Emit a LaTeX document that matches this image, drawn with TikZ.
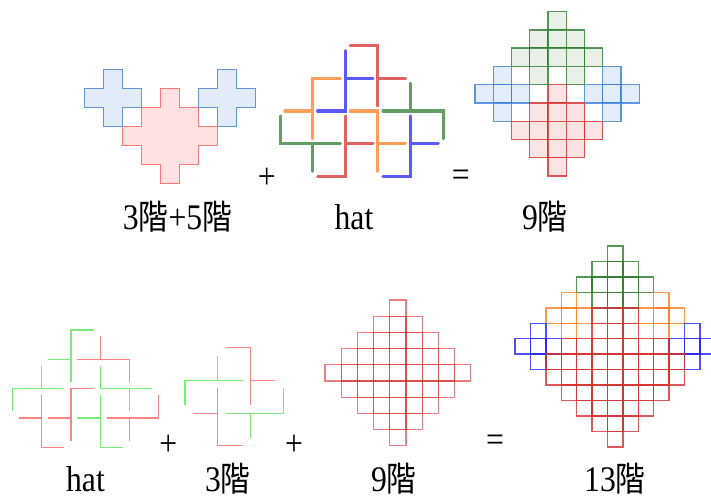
\documentclass[tikz,border=0pt]{standalone}
\usepackage{fontspec}
\setmainfont{Liberation Serif}
\newfontfamily\cjk{Noto Sans CJK TC}
\usepackage{graphicx}

\definecolor{hblue}{RGB}{100,150,215}
\definecolor{hbluefill}{RGB}{225,236,248}
\definecolor{hred}{RGB}{255,120,120}
\definecolor{hredfill}{RGB}{255,225,225}
\definecolor{cgreen}{RGB}{45,125,45}
\definecolor{cgreenfill}{RGB}{232,240,232}
\definecolor{cblue}{RGB}{55,125,220}
\definecolor{cbluefill}{RGB}{227,237,249}
\definecolor{cred}{RGB}{215,45,45}
\definecolor{credfill}{RGB}{250,228,228}
\definecolor{corange}{RGB}{255,125,35}
\definecolor{pblue}{RGB}{35,35,245}
\definecolor{lred}{RGB}{255,110,110}
\definecolor{lgreen}{RGB}{95,235,95}

\newcommand{\jie}{{\cjk\fontsize{34}{36}\selectfont 階}}
\newcommand{\lbl}[1]{\scalebox{0.88}[1]{\fontsize{36}{40}\selectfont #1}}

\begin{document}
\begin{tikzpicture}[x=1pt,y=-1pt,
  txt/.style={anchor=base,inner sep=0pt},
  op/.style={anchor=center,inner sep=0pt},
  heavy/.style={line width=3pt,line cap=round,draw opacity=.75},
  light/.style={line width=1.2pt,draw opacity=.85},
  filled/.style={line width=1.4pt,draw opacity=.8},
  thin/.style={line width=1.1pt,draw=cred,draw opacity=.6}]
\useasboundingbox (0,0) rectangle (711,500);

% 3+5 : two crosses and a diamond
\begin{scope}[shift={(84,69)},x=19pt,y=-19pt]
\draw[hred,fill=hredfill] (4,1) -- (5,1) -- (5,2) -- (6,2) -- (6,3) -- (7,3) -- (7,4) -- (6,4)
  -- (6,5) -- (5,5) -- (5,6) -- (4,6) -- (4,5) -- (3,5) -- (3,4) -- (2,4) -- (2,3) -- (3,3)
  -- (3,2) -- (4,2) -- cycle;
\foreach \cx in {1,7}
  \draw[hblue,fill=hbluefill] (\cx,0) -- ++(1,0) -- ++(0,1) -- ++(1,0) -- ++(0,1) -- ++(-1,0)
    -- ++(0,1) -- ++(-1,0) -- ++(0,-1) -- ++(-1,0) -- ++(0,-1) -- ++(1,0) -- cycle;
\end{scope}

% hat, thick pieces
\begin{scope}[shift={(280,45.7)},x=32.65pt,y=-32.65pt]
\draw[heavy,cred] (2.15,0) -- (3,0) -- (3,1.85) (3,1) -- (3.85,1);
\draw[heavy,pblue] (2,0.15) -- (2,2) -- (1.15,2) (2,1) -- (2.85,1);
\draw[heavy,corange] (1.85,1) -- (1,1) -- (1,2.85) (1,2) -- (0.15,2);
\draw[heavy,cgreen] (4,1.15) -- (4,2) (3.15,2) -- (5,2) -- (5,2.85);
\draw[heavy,corange] (2.15,2) -- (3,2) -- (3,3.85) (3,3) -- (3.85,3);
\draw[heavy,cred] (2,2.15) -- (2,4) -- (1.15,4) (2,3) -- (2.85,3);
\draw[heavy,cgreen] (0,2.15) -- (0,3) -- (1.85,3) (1,3) -- (1,3.85);
\draw[heavy,pblue] (4,2.15) -- (4,4) -- (3.15,4) (4,3) -- (4.85,3);
\end{scope}

% 9, coloured cells
\begin{scope}[shift={(475,11.7)},x=18.25pt,y=-18.25pt]
\foreach \c/\r in {4/0,3/1,4/1,5/1,2/2,3/2,4/2,5/2,6/2,3/3,5/3}
  \draw[filled,cgreen,fill=cgreenfill] (\c,\r) rectangle ++(1,1);
\foreach \c/\r in {1/3,0/4,1/4,2/4,1/5,7/3,6/4,7/4,8/4,7/5}
  \draw[filled,cblue,fill=cbluefill] (\c,\r) rectangle ++(1,1);
\foreach \c/\r in {4/4,3/5,4/5,5/5,2/6,3/6,4/6,5/6,6/6,3/7,4/7,5/7,4/8}
  \draw[filled,cred,fill=credfill] (\c,\r) rectangle ++(1,1);
\end{scope}

% hat, thin pieces
\begin{scope}[shift={(12.3,330)},x=29.3pt,y=-29.3pt]
\draw[light,lgreen] (2.78,0) -- (2,0) -- (2,1.78) (1.22,1) -- (2,1);
\draw[light,lred] (3,0.22) -- (3,1) (2.22,1) -- (4,1) -- (4,1.78);
\draw[light,lgreen] (1,1.22) -- (1,2) (1.78,2) -- (0,2) -- (0,2.78);
\draw[light,lgreen] (3,1.22) -- (3,2) -- (4.78,2) (4,2) -- (4,2.78);
\draw[light,lgreen] (2.22,3) -- (3,3) (3,2.22) -- (3,4) -- (3.78,4);
\draw[light,lred] (0.22,3) -- (1,3) (1,2.22) -- (1,4) -- (1.78,4);
\draw[light,lred] (2.78,2) -- (2,2) -- (2,3.78) (1.22,3) -- (2,3);
\draw[light,lred] (3.22,3) -- (5,3) -- (5,2.22) (4,3) -- (4,3.78);
\end{scope}

% 3
\begin{scope}[shift={(185,347.7)},x=32.7pt,y=-32.7pt]
\draw[light,lred] (1.24,0) -- (2,0) -- (2,1.76) (2,1) -- (2.76,1);
\draw[light,lgreen] (1,0.24) -- (1,1) (1.76,1) -- (0,1) -- (0,1.76);
\draw[light,lred] (0.24,2) -- (1,2) (1,1.24) -- (1,3) -- (1.76,3);
\draw[light,lgreen] (1.24,2) -- (3,2) -- (3,1.24) (2,2) -- (2,2.76);
\end{scope}

% 9, plain grid
\begin{scope}[shift={(325,300)},x=16.2pt,y=-16.2pt]
\foreach \r in {0,...,8} {
  \pgfmathtruncatemacro\d{abs(\r-4)}
  \pgfmathtruncatemacro\e{8-\d}
  \foreach \c in {\d,...,\e}
    \draw[thin] (\c,\r) rectangle ++(1,1);
}
\end{scope}

% 13
\begin{scope}[shift={(515,246)},x=15.4pt,y=-15.45pt]
\foreach \c/\r in {6/0,5/1,6/1,7/1,4/2,5/2,6/2,7/2,8/2,5/3,6/3,7/3}
  \draw[filled,cgreen] (\c,\r) rectangle ++(1,1);
\foreach \c/\r in {3/3,2/4,3/4,4/4,3/5,9/3,8/4,9/4,10/4,9/5}
  \draw[filled,corange] (\c,\r) rectangle ++(1,1);
\foreach \c/\r in {1/5,0/6,1/6,2/6,1/7,11/5,10/6,11/6,12/6,11/7}
  \draw[filled,pblue] (\c,\r) rectangle ++(1,1);
\foreach \r/\a/\b in {4/5/7,5/5/7,6/3/9,7/2/10,8/2/10,9/3/9,10/4/8,11/5/7,12/6/6}
  \foreach \c in {\a,...,\b}
    \draw[filled,cred] (\c,\r) rectangle ++(1,1);
\end{scope}

% labels
\node[txt] (sum1) at (177.5,229) {\lbl{3\jie+5\jie}};
\node[txt] (hat1) at (354,229) {\lbl{hat}};
\node[txt] (nine1) at (545,229) {\lbl{9\jie}};
\node[op] (plusA) at (266.7,178) {\lbl{+}};
\node[op] (eqA) at (460.7,178) {\lbl{=}};
\node[txt] (hat2) at (85.5,491) {\lbl{hat}};
\node[txt] (three2) at (228,491) {\lbl{3\jie}};
\node[txt] (nine2) at (394,491) {\lbl{9\jie}};
\node[txt] (thirteen2) at (615,491) {\lbl{13\jie}};
\node[op] (plusB) at (168.3,445) {\lbl{+}};
\node[op] (plusC) at (294,445) {\lbl{+}};
\node[op] (eqB) at (495,443) {\lbl{=}};
\end{tikzpicture}
\end{document}
